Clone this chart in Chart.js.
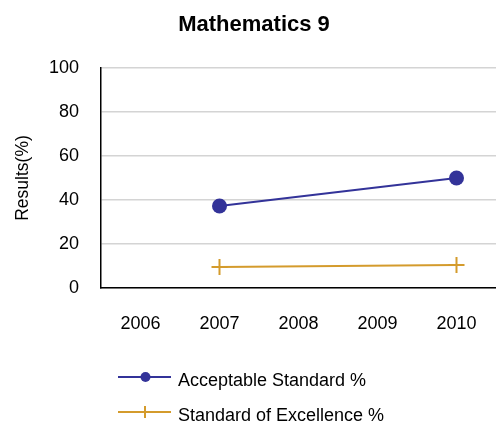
<!DOCTYPE html>
<html>
<head>
<meta charset="utf-8">
<script src="https://cdn.jsdelivr.net/npm/chart.js@4"></script>
<style>
  html, body { margin: 0; padding: 0; background: #fff; }
  #wrap { width: 496px; height: 428px; }
</style>
</head>
<body>
<div id="wrap"><canvas id="myChart" width="496" height="428"></canvas></div>
<script>
const years = ["2006", "2007", "2008", "2009", "2010"];
const acceptable = [null, 37.3, null, null, 50];
const excellence = [null, 9.5, null, null, 10.4];
const yTicks = [0, 20, 40, 60, 80, 100];

const FONT = "'Liberation Sans', Arial, sans-serif";
const BLUE = "#333399";
const GOLD = "#d49b2c";

// title is drawn by hand so it can sit a little right of the canvas centre
const titleText = {
    id: "titleText",
    afterDraw(chart) {
        const c = chart.ctx;
        c.save();
        c.fillStyle = "#000";
        c.font = "bold 22px " + FONT;
        c.textAlign = "center";
        c.textBaseline = "middle";
        c.fillText("Mathematics 9", 254, 25);
        c.restore();
    }
};

// legend drawn by hand: line sample with marker, stacked vertically
const lineLegend = {
    id: "lineLegend",
    afterDraw(chart) {
        const c = chart.ctx;
        const base = chart.chartArea.bottom;
        chart.data.datasets.forEach((ds, i) => {
            const y = base + 89 + i * 35;
            c.save();
            c.strokeStyle = ds.borderColor;
            c.lineWidth = 2;
            c.beginPath();
            c.moveTo(118, y);
            c.lineTo(171, y);
            c.stroke();
            if (ds.pointStyle === "circle") {
                c.fillStyle = ds.borderColor;
                c.beginPath();
                c.arc(145.5, y, 5, 0, Math.PI * 2);
                c.fill();
            } else {
                c.beginPath();
                c.moveTo(145, y - 6);
                c.lineTo(145, y + 6);
                c.stroke();
            }
            c.fillStyle = "#000";
            c.font = "18px " + FONT;
            c.textBaseline = "middle";
            c.textAlign = "left";
            c.fillText(ds.label, 178, y + 4);
            c.restore();
        });
    }
};

new Chart(document.getElementById("myChart"), {
    type: "line",
    plugins: [titleText, lineLegend],
    data: {
        labels: years,
        datasets: [
            {
                label: "Acceptable Standard %",
                data: acceptable,
                borderColor: BLUE,
                backgroundColor: BLUE,
                borderWidth: 2,
                pointStyle: "circle",
                pointRadius: 7.5,
                pointBorderWidth: 0,
                spanGaps: true
            },
            {
                label: "Standard of Excellence %",
                data: excellence,
                borderColor: GOLD,
                backgroundColor: GOLD,
                borderWidth: 2,
                pointStyle: "cross",
                pointRadius: 8,
                pointBorderWidth: 2,
                spanGaps: true
            }
        ]
    },
    options: {
        responsive: false,
        animation: false,
        layout: { autoPadding: false, padding: { left: 0, right: 0, top: 68, bottom: 90 } },
        plugins: {
            legend: { display: false },
            tooltip: { enabled: false },
            title: { display: false }
        },
        scales: {
            x: {
                offset: true,
                grid: { display: false, drawTicks: false },
                border: { display: true, color: "#000", width: 1.5 },
                ticks: {
                    color: "#000",
                    font: { family: FONT, size: 18 },
                    padding: 25,
                    maxRotation: 0
                },
                afterFit: (s) => {
                    s.height = 50;
                    s.paddingLeft = 0;
                    s.paddingRight = 0;
                }
            },
            y: {
                min: 0,
                max: 100,
                afterBuildTicks: (s) => { s.ticks = yTicks.map(v => ({ value: v })); },
                grid: { color: "#d4d4d4", lineWidth: 1.5, drawTicks: false },
                border: { display: true, color: "#000", width: 1.5 },
                ticks: {
                    color: "#000",
                    font: { family: FONT, size: 18 },
                    padding: 22
                },
                title: {
                    display: true,
                    text: "Results(%)",
                    color: "#000",
                    font: { family: FONT, size: 17.5 },
                    padding: { top: 13, bottom: 0 }
                },
                afterFit: (s) => { s.width = 101; }
            }
        }
    }
});
</script>
</body>
</html>
